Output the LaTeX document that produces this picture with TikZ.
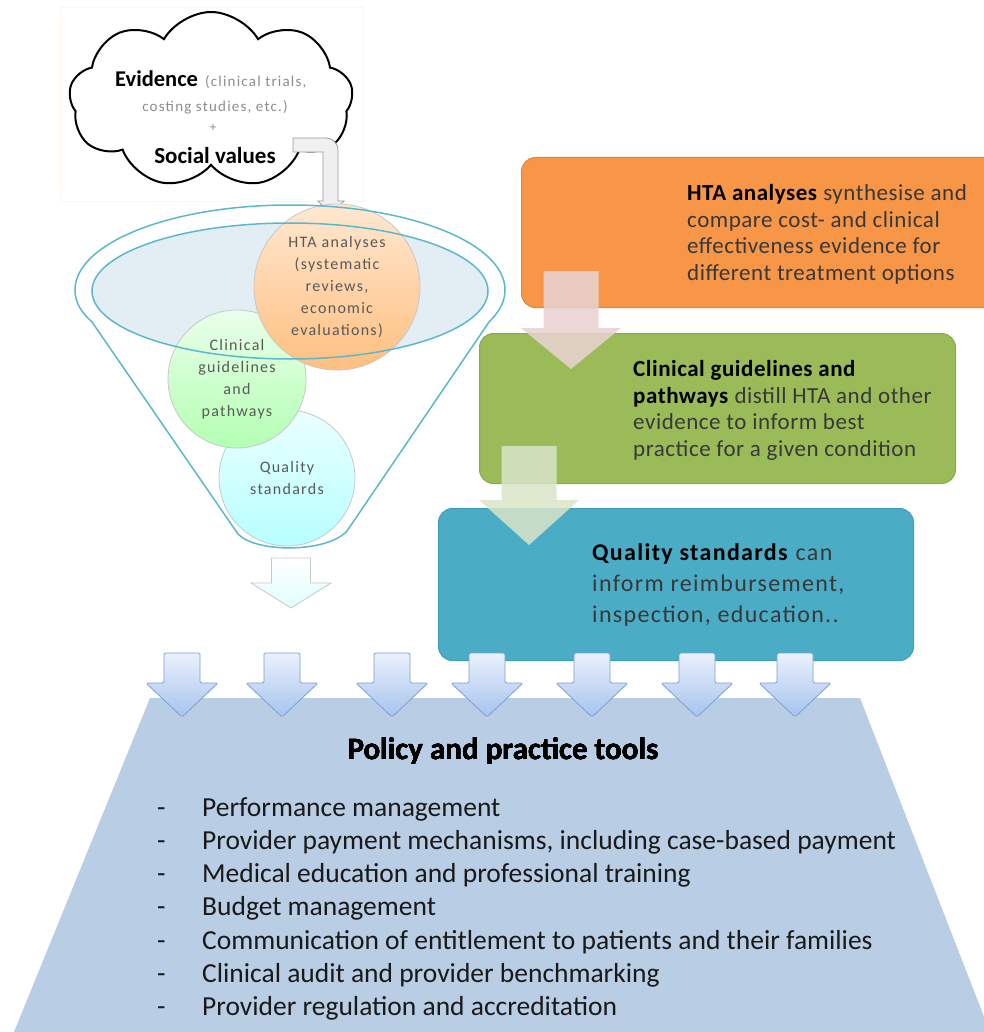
\documentclass[tikz,border=0pt]{standalone}
\usepackage{fontspec}
\setmainfont{Carlito}
\newfontfamily\spacedfont[LetterSpace=8]{Carlito}
\newfontfamily\boxfont[LetterSpace=2.3]{Carlito}
\newfontfamily\qsfont[LetterSpace=5.5]{Carlito}
\usetikzlibrary{shapes.symbols}

\definecolor{htaorange}{HTML}{F79646}
\definecolor{htaedge}{HTML}{E0873C}
\definecolor{cggreen}{HTML}{9BBB59}
\definecolor{cgedge}{HTML}{8AAA4B}
\definecolor{qsblue}{HTML}{4BACC6}
\definecolor{qsedge}{HTML}{3E9DB6}
\definecolor{tooltrap}{HTML}{B9CDE5}
\definecolor{funnelline}{HTML}{5BB8CC}
\definecolor{funnelfill}{HTML}{E2EEF4}
\definecolor{circtext}{HTML}{595959}
\definecolor{notegray}{HTML}{8C8C8C}
\definecolor{arrowtop}{HTML}{EAF1FC}
\definecolor{arrowbot}{HTML}{A7C3EE}
\definecolor{arrowedge}{HTML}{7AA0D6}
\definecolor{pinkarrow}{HTML}{E8D2CF}
\definecolor{sagearrow}{HTML}{DAE5C8}

% down-pointing block arrow: [style]{x}{top}{wing y}{tip y}{half shaft}{half head}
\newcommand{\blockdown}[7][]{%
  \path[#1] ({#2-#6},#3) -- ({#2+#6},#3) -- ({#2+#6},#4) -- ({#2+#7},#4)
    -- (#2,#5) -- ({#2-#7},#4) -- ({#2-#6},#4) -- cycle;}

\tikzset{
  infobox/.style={rounded corners=14pt, line width=1pt, anchor=north west, inner sep=0pt},
  boxtext/.style={anchor=north west, align=left, inner sep=0pt, text=black!78,
    font=\boxfont\fontsize{23}{26.8}\selectfont},
  bubble/.style={circle, draw=black!22, line width=0.8pt, align=center, inner sep=0pt,
    text=circtext, font=\spacedfont\fontsize{16}{22}\selectfont},
  toolarrow/.style={draw=arrowedge, line width=0.8pt, top color=arrowtop,
    bottom color=arrowbot, rounded corners=1.5pt},
  listitem/.style={anchor=base west, inner sep=0pt, text=black!90,
    font=\fontsize{27.5}{33}\selectfont},
}

\begin{document}
\begin{tikzpicture}[x=1pt,y=-1pt]
  \useasboundingbox (0,0) rectangle (983,1032);

  % evidence cloud
  \draw[draw=orange!8, line width=1pt, fill=white] (60,8) rectangle (363,202);
  \node[cloud, cloud puffs=9, cloud puff arc=120, draw=black, line width=2pt,
        fill=white, minimum width=284pt, minimum height=176pt] (evidence) at (211,100) {};
  \node[anchor=base west, inner sep=0pt, font=\bfseries\fontsize{22.5}{26}\selectfont]
    (evtitle) at (115,87) {Evidence};
  \node[anchor=base west, inner sep=0pt, text=notegray,
        font=\spacedfont\fontsize{15}{18}\selectfont] (evnote) at (205,87) {(clinical trials,};
  \node[anchor=base, inner sep=0pt, text=notegray,
        font=\spacedfont\fontsize{15}{18}\selectfont] (evnotetwo) at (215,112) {costing studies, etc.)};
  \node[anchor=base, inner sep=0pt, text=notegray, font=\fontsize{13}{15}\selectfont]
    (evplus) at (213,132) {+};
  \node[anchor=base, inner sep=0pt, font=\bfseries\fontsize{23}{26}\selectfont]
    (social) at (215,164) {Social values};

  % bent arrow into the funnel
  \draw[draw=black!40, line width=0.8pt, fill=black!6]
    (293,138) -- (325,138) .. controls (333,138) and (338,143) .. (338,151)
    -- (338,201) -- (344,201) -- (331,215) -- (318,201) -- (323,201)
    -- (323,152) -- (293,152) -- cycle;

  % funnel
  \fill[funnelfill] (290,291) ellipse [x radius=198, y radius=68];
  \node[bubble, minimum size=136pt, top color=cyan!8, bottom color=cyan!28!white]
    (quality) at (287,478) {Quality\\standards};
  \node[bubble, minimum size=138pt, top color=green!8, bottom color=green!30!white]
    (clinical) at (237,379) {Clinical\\guidelines\\and\\pathways};
  \node[bubble, minimum size=166pt, top color=orange!18, bottom color=orange!50!white]
    (hta) at (337,287) {HTA analyses\\(systematic\\reviews,\\economic\\evaluations)};
  \draw[funnelline, line width=1.5pt] (290,291) ellipse [x radius=198, y radius=68];
  \draw[funnelline, line width=1.5pt]
    (75,290) .. controls (75,243) and (171,205) .. (290,205)
    .. controls (409,205) and (505,243) .. (505,290)
    .. controls (505,303) and (498,313) .. (489,322) -- (347,531)
    .. controls (327,553) and (256,553) .. (238,534) -- (92,322)
    .. controls (82,313) and (75,303) .. (75,290) -- cycle;
  \blockdown[draw=black!22, line width=0.8pt, top color=white, bottom color=cyan!12]
    {291}{558}{583}{608}{19.5}{40}

  % stacked boxes on the right
  \node[infobox, draw=htaedge, fill=htaorange, minimum width=490pt, minimum height=150pt]
    (htabox) at (521,157) {};
  \node[boxtext] (htatext) at (687,184)
    {\textcolor{black}{\textbf{HTA analyses}} synthesise and\\compare cost- and clinical\\
     effectiveness evidence for\\different treatment options};
  \node[infobox, draw=cgedge, fill=cggreen, minimum width=476pt, minimum height=150pt]
    (cgbox) at (479,333) {};
  \node[infobox, draw=qsedge, fill=qsblue, minimum width=475pt, minimum height=152pt]
    (qsbox) at (438,508) {};
  \blockdown[fill=pinkarrow, fill opacity=0.88]{571}{271}{328}{369}{27.5}{50}
  \node[boxtext] (cgtext) at (633,360)
    {\textcolor{black}{\textbf{Clinical guidelines and}}\\
     \textcolor{black}{\textbf{pathways}} distill HTA and other\\
     evidence to inform best\\practice for a given condition};
  \blockdown[fill=sagearrow, fill opacity=0.85]{529}{446}{500}{545}{27.5}{50}
  \node[boxtext, font=\qsfont\fontsize{24}{31}\selectfont] (qstext) at (592,543)
    {\textcolor{black}{\textbf{Quality standards}} can\\inform reimbursement,\\
     inspection, education..};

  % policy and practice tools
  \fill[tooltrap] (150,698) -- (860,698) -- (990,1032) -- (14,1032) -- cycle;
  \foreach \ax in {182,282,392,487,592,697,795}
    \blockdown[toolarrow]{\ax}{653}{683}{717}{18}{36}
  \node[anchor=base, inner sep=0pt, font=\bfseries\fontsize{31}{36}\selectfont]
    (tooltitle) at (503,759) {Policy and practice tools};
  \foreach \txt [count=\i] in {Performance management,
      {Provider payment mechanisms, including case-based payment},
      Medical education and professional training,
      Budget management,
      Communication of entitlement to patients and their families,
      Clinical audit and provider benchmarking,
      Provider regulation and accreditation} {
    \node[listitem] (dash\i) at (157,{783+33.2*\i}) {-};
    \node[listitem] (item\i) at (202,{783+33.2*\i}) {\txt};
  }
\end{tikzpicture}
\end{document}
